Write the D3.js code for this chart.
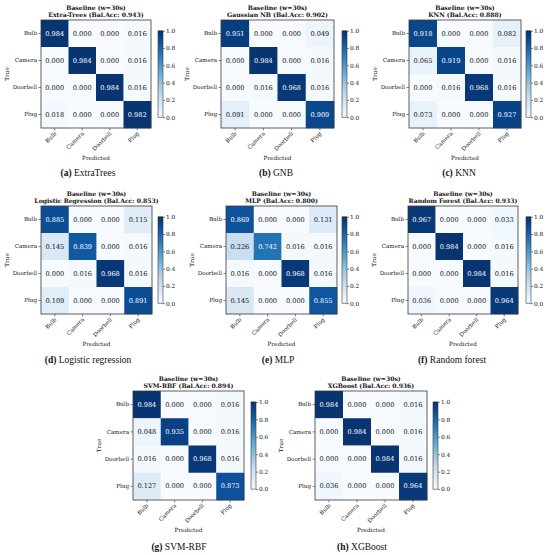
<!DOCTYPE html>
<html>
<head>
<meta charset="utf-8">
<script src="https://cdn.jsdelivr.net/npm/d3@7"></script>
<style>
  html, body { margin: 0; padding: 0; background: #fff; }
  svg { display: block; }
</style>
</head>
<body>
<svg id="chart" width="550" height="555"></svg>
<script>
// ---------------- DATA ----------------
const classes = ["Bulb", "Camera", "Doorbell", "Plug"];
const titleTop = "Baseline (w=30s)";
const modelNames = ["Extra-Trees", "Gaussian NB", "KNN", "Logistic Regression", "MLP", "Random Forest", "SVM-RBF", "XGBoost"];
const balAcc = [0.943, 0.902, 0.888, 0.853, 0.800, 0.933, 0.894, 0.936];
const captionLetters = ["(a)", "(b)", "(c)", "(d)", "(e)", "(f)", "(g)", "(h)"];
const captionNames = ["ExtraTrees", "GNB", "KNN", "Logistic regression", "MLP", "Random forest", "SVM-RBF", "XGBoost"];
const cbTicks = [0.0, 0.2, 0.4, 0.6, 0.8, 1.0];

const cmExtraTrees = [[0.984,0.000,0.000,0.016],[0.000,0.984,0.000,0.016],[0.000,0.000,0.984,0.016],[0.018,0.000,0.000,0.982]];
const cmGNB        = [[0.951,0.000,0.000,0.049],[0.000,0.984,0.000,0.016],[0.000,0.016,0.968,0.016],[0.091,0.000,0.000,0.909]];
const cmKNN        = [[0.918,0.000,0.000,0.082],[0.065,0.919,0.000,0.016],[0.000,0.016,0.968,0.016],[0.073,0.000,0.000,0.927]];
const cmLogReg     = [[0.885,0.000,0.000,0.115],[0.145,0.839,0.000,0.016],[0.000,0.016,0.968,0.016],[0.109,0.000,0.000,0.891]];
const cmMLP        = [[0.869,0.000,0.000,0.131],[0.226,0.742,0.016,0.016],[0.016,0.000,0.968,0.016],[0.145,0.000,0.000,0.855]];
const cmRF         = [[0.967,0.000,0.000,0.033],[0.000,0.984,0.000,0.016],[0.000,0.000,0.984,0.016],[0.036,0.000,0.000,0.964]];
const cmSVM        = [[0.984,0.000,0.000,0.016],[0.048,0.935,0.000,0.016],[0.016,0.000,0.968,0.016],[0.127,0.000,0.000,0.873]];
const cmXGB        = [[0.984,0.000,0.000,0.016],[0.000,0.984,0.000,0.016],[0.000,0.000,0.984,0.016],[0.036,0.000,0.000,0.964]];
const matrices = [cmExtraTrees, cmGNB, cmKNN, cmLogReg, cmMLP, cmRF, cmSVM, cmXGB];

// ---------------- LAYOUT (positions only) ----------------
const layout = [
  {x: 41,  y: 20,  w: 110, h: 108, cbx: 158, capx: 88,  capy: 176},
  {x: 221, y: 20,  w: 113, h: 108, cbx: 342, capx: 276, capy: 176},
  {x: 409, y: 20,  w: 112, h: 108, cbx: 526, capx: 459, capy: 176},
  {x: 41,  y: 206, w: 111, h: 108, cbx: 158, capx: 88,  capy: 363},
  {x: 226, y: 206, w: 111, h: 108, cbx: 342, capx: 278, capy: 363},
  {x: 408, y: 206, w: 110, h: 108, cbx: 526, capx: 452, capy: 363},
  {x: 133, y: 391, w: 111, h: 109, cbx: 251, capx: 179, capy: 550},
  {x: 315, y: 391, w: 112, h: 109, cbx: 433, capx: 362, capy: 550}
];

const FONT = "'DejaVu Serif', serif";
const svg = d3.select("#chart");
const color = d3.scaleSequential(d3.interpolateBlues).domain([0, 1]);

// gradient for colorbars
const defs = svg.append("defs");
const grad = defs.append("linearGradient").attr("id", "blues")
  .attr("x1", 0).attr("y1", 1).attr("x2", 0).attr("y2", 0);
d3.range(0, 1.0001, 0.05).forEach(t => {
  grad.append("stop").attr("offset", t).attr("stop-color", color(t));
});

matrices.forEach((m, i) => {
  const L = layout[i];
  const g = svg.append("g");
  const x = d3.scaleBand().domain(classes).range([L.x, L.x + L.w]);
  const y = d3.scaleBand().domain(classes).range([L.y, L.y + L.h]);

  const cells = [];
  m.forEach((row, r) => row.forEach((v, c) => cells.push({r: classes[r], c: classes[c], v})));

  g.selectAll("rect.cell").data(cells).join("rect")
    .attr("class", "cell")
    .attr("x", d => x(d.c)).attr("y", d => y(d.r))
    .attr("width", x.bandwidth() + 0.3).attr("height", y.bandwidth() + 0.3)
    .attr("fill", d => color(d.v));

  g.selectAll("text.val").data(cells).join("text")
    .attr("class", "val")
    .attr("x", d => x(d.c) + x.bandwidth() / 2)
    .attr("y", d => y(d.r) + y.bandwidth() / 2)
    .attr("text-anchor", "middle").attr("dominant-baseline", "central")
    .attr("font-family", FONT).attr("font-size", 6.6)
    .attr("fill", d => d.v > 0.5 ? "#fff" : "#111")
    .text(d => d.v.toFixed(3));

  // frame
  g.append("rect").attr("x", L.x).attr("y", L.y).attr("width", L.w).attr("height", L.h)
    .attr("fill", "none").attr("stroke", "#3a3a3a").attr("stroke-width", 0.8);

  // y axis
  const ya = g.append("g").attr("transform", `translate(${L.x},0)`)
    .call(d3.axisLeft(y).tickSize(2.5).tickPadding(1.5));
  ya.select(".domain").remove();
  ya.selectAll("line").attr("stroke", "#333").attr("stroke-width", 0.6);
  ya.selectAll("text").attr("font-family", FONT).attr("font-size", 5.6).attr("fill", "#111");

  // x axis
  const xa = g.append("g").attr("transform", `translate(0,${L.y + L.h})`)
    .call(d3.axisBottom(x).tickSize(2.5).tickPadding(1.5));
  xa.select(".domain").remove();
  xa.selectAll("line").attr("stroke", "#333").attr("stroke-width", 0.6);
  xa.selectAll("text")
    .attr("font-family", FONT).attr("font-size", 5.6).attr("fill", "#111")
    .attr("text-anchor", "end")
    .attr("dy", null).attr("y", 0)
    .attr("transform", "translate(2,6) rotate(-45)");

  // axis labels
  g.append("text").attr("x", L.x + L.w / 2).attr("y", L.y + L.h + 32)
    .attr("text-anchor", "middle").attr("font-family", FONT).attr("font-size", 5.7)
    .attr("fill", "#111").text("Predicted");
  g.append("text")
    .attr("transform", `translate(${L.x - 32},${L.y + L.h / 2}) rotate(-90)`)
    .attr("text-anchor", "middle").attr("font-family", FONT).attr("font-size", 5.7)
    .attr("fill", "#111").text("True");

  // titles
  g.append("text").attr("x", L.x + L.w / 2).attr("y", L.y - 10.5)
    .attr("text-anchor", "middle").attr("font-family", FONT).attr("font-weight", "bold")
    .attr("font-size", 6.1).attr("fill", "#111").text(titleTop);
  g.append("text").attr("x", L.x + L.w / 2).attr("y", L.y - 2.8)
    .attr("text-anchor", "middle").attr("font-family", FONT).attr("font-weight", "bold")
    .attr("font-size", 6.1).attr("fill", "#111")
    .text(`${modelNames[i]} (Bal.Acc: ${balAcc[i].toFixed(3)})`);

  // colorbar
  const cbh = L.h * 0.8;
  const cby = L.y + (L.h - cbh) / 2;
  const cbw = 5;
  g.append("rect").attr("x", L.cbx).attr("y", cby).attr("width", cbw).attr("height", cbh)
    .attr("fill", "url(#blues)").attr("stroke", "#3a3a3a").attr("stroke-width", 0.6);
  const cs = d3.scaleLinear().domain([0, 1]).range([cby + cbh, cby]);
  const ca = g.append("g").attr("transform", `translate(${L.cbx + cbw},0)`)
    .call(d3.axisRight(cs).tickValues(cbTicks).tickFormat(d3.format(".1f")).tickSize(2).tickPadding(1));
  ca.select(".domain").remove();
  ca.selectAll("line").attr("stroke", "#333").attr("stroke-width", 0.6);
  ca.selectAll("text").attr("font-family", FONT).attr("font-size", 5.9).attr("fill", "#111");

  // caption
  const cap = g.append("text").attr("x", L.capx).attr("y", L.capy)
    .attr("text-anchor", "middle").attr("font-family", "'Liberation Serif', serif")
    .attr("font-size", 9.5).attr("fill", "#111");
  cap.append("tspan").attr("font-weight", "bold").text(captionLetters[i]);
  cap.append("tspan").text(" " + captionNames[i]);
});
</script>
</body>
</html>
